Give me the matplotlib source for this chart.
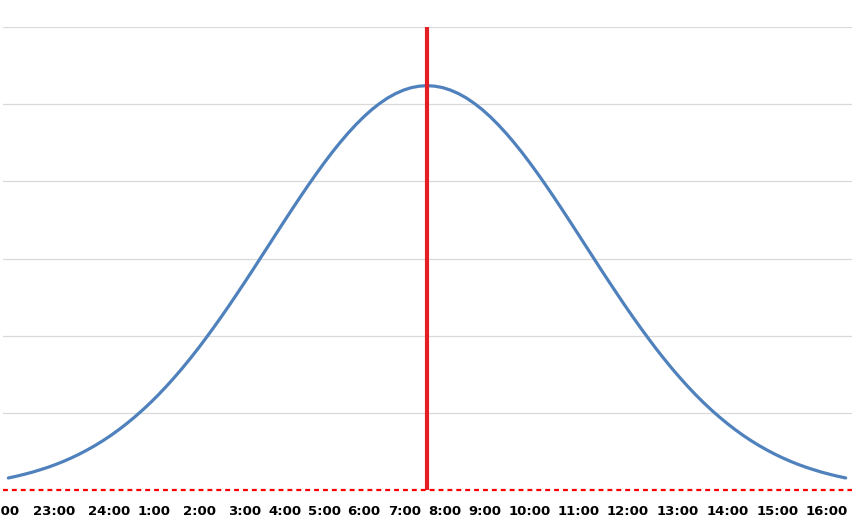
import matplotlib
matplotlib.use("Agg")
import matplotlib.pyplot as plt

# curve: x in std units from the peak, y in grid steps
curve_x = [-2.65, -2.60, -2.55, -2.50, -2.45, -2.40, -2.35, -2.30, -2.25,
           -2.20, -2.15, -2.10, -2.05, -2.00, -1.95, -1.90, -1.85, -1.80,
           -1.75, -1.70, -1.65, -1.60, -1.55, -1.50, -1.45, -1.40, -1.35,
           -1.30, -1.25, -1.20, -1.15, -1.10, -1.05, -1.00, -0.95, -0.90,
           -0.85, -0.80, -0.75, -0.70, -0.65, -0.60, -0.55, -0.50, -0.45,
           -0.40, -0.35, -0.30, -0.25, -0.20, -0.15, -0.10, -0.05, 0.00,
           0.05, 0.10, 0.15, 0.20, 0.25, 0.30, 0.35, 0.40, 0.45, 0.50,
           0.55, 0.60, 0.65, 0.70, 0.75, 0.80, 0.85, 0.90, 0.95, 1.00,
           1.05, 1.10, 1.15, 1.20, 1.25, 1.30, 1.35, 1.40, 1.45, 1.50,
           1.55, 1.60, 1.65, 1.70, 1.75, 1.80, 1.85, 1.90, 1.95, 2.00,
           2.05, 2.10, 2.15, 2.20, 2.25, 2.30, 2.35, 2.40, 2.45, 2.50,
           2.55, 2.60, 2.65]
curve_y = [0.156, 0.178, 0.203, 0.230, 0.261, 0.294, 0.331, 0.372, 0.417,
           0.466, 0.520, 0.578, 0.641, 0.709, 0.783, 0.862, 0.947, 1.037,
           1.133, 1.235, 1.343, 1.457, 1.576, 1.701, 1.831, 1.967, 2.107,
           2.251, 2.399, 2.551, 2.705, 2.861, 3.020, 3.178, 3.337, 3.495,
           3.651, 3.805, 3.955, 4.101, 4.242, 4.377, 4.504, 4.624, 4.735,
           4.837, 4.929, 5.009, 5.079, 5.136, 5.181, 5.214, 5.233, 5.240,
           5.233, 5.214, 5.181, 5.136, 5.079, 5.009, 4.929, 4.837, 4.735,
           4.624, 4.504, 4.377, 4.242, 4.101, 3.955, 3.805, 3.651, 3.495,
           3.337, 3.178, 3.020, 2.861, 2.705, 2.551, 2.399, 2.251, 2.107,
           1.967, 1.831, 1.701, 1.576, 1.457, 1.343, 1.235, 1.133, 1.037,
           0.947, 0.862, 0.783, 0.709, 0.641, 0.578, 0.520, 0.466, 0.417,
           0.372, 0.331, 0.294, 0.261, 0.230, 0.203, 0.178, 0.156]

time_labels = ["22:00", "23:00", "24:00", "1:00", "2:00", "3:00", "4:00",
               "5:00", "6:00", "7:00", "8:00", "9:00", "10:00", "11:00",
               "12:00", "13:00", "14:00", "15:00", "16:00"]
label_x = [-2.715, -2.361, -2.013, -1.728, -1.443, -1.152, -0.899, -0.646,
           -0.399, -0.139, 0.114, 0.367, 0.652, 0.962, 1.272, 1.589, 1.905,
           2.222, 2.532]

peak_x = 0.0
y_max = 6

fig = plt.figure(figsize=(8.52, 5.27), dpi=100)
ax = fig.add_axes([3 / 852, 37 / 527, 849 / 852, 463 / 527])

for g in range(1, y_max + 1):
    ax.axhline(g, color="#D9D9D9", linewidth=0.9, zorder=1)

ax.plot(curve_x, curve_y, color="#4F81BD", linewidth=2.3,
        solid_capstyle="round", solid_joinstyle="round", zorder=3)
ax.axvline(peak_x, color="#E31E24", linewidth=3.0, zorder=4)
ax.axhline(0, color="red", linewidth=1.6, linestyle=(0, (2.2, 1.8)),
           clip_on=False, zorder=5)

# labels sit at uneven spots in the reference, so they are placed as texts
for x, lab in zip(label_x, time_labels):
    ax.text(x, -0.276, lab, ha="center", va="center", fontsize=9.5,
            fontweight="bold", color="black", clip_on=False)

ax.set_xlim(-2.684, 2.69)
ax.set_ylim(0, y_max)
ax.set_xticks([])
ax.set_yticks([])
for s in ax.spines.values():
    s.set_visible(False)

fig.savefig("out.png", dpi=100, facecolor="white")
